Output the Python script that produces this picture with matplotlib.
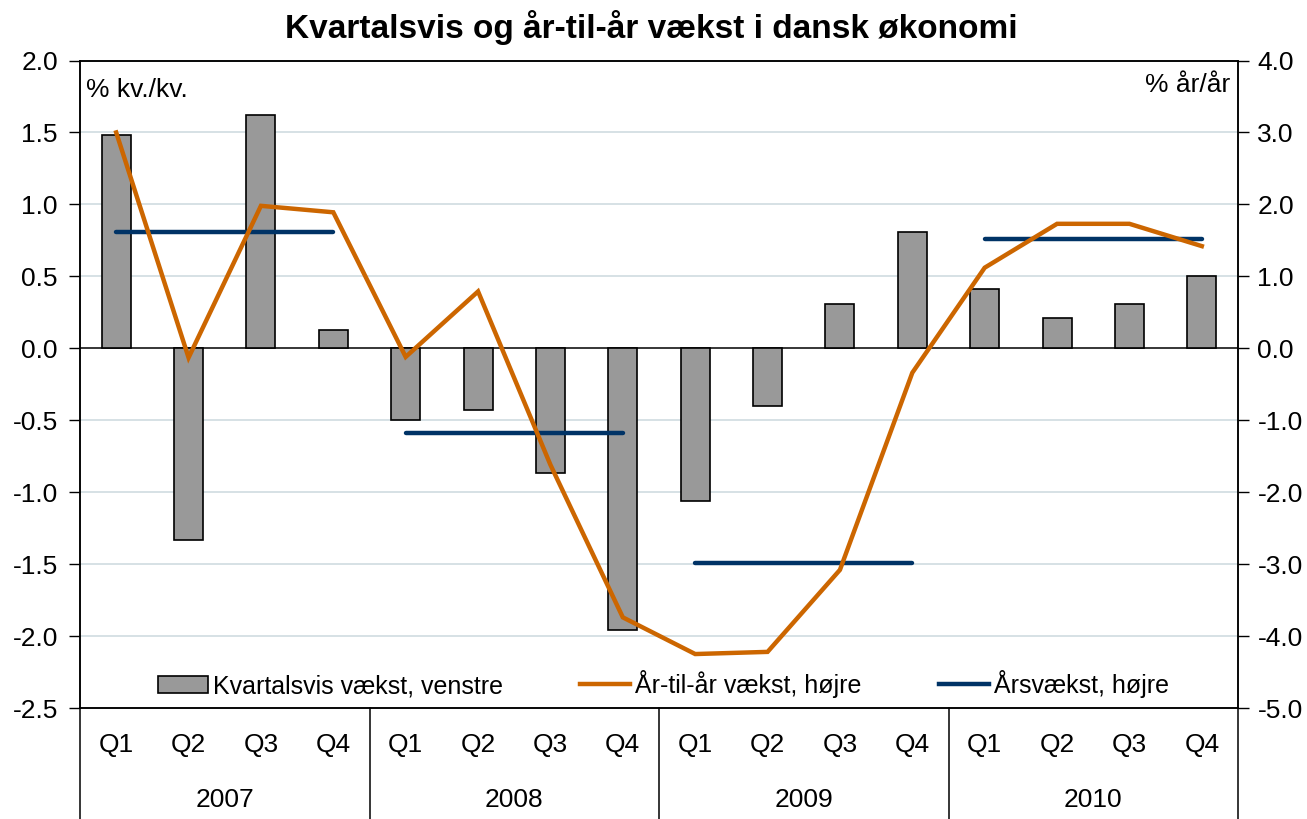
import numpy as np
import matplotlib
matplotlib.use("Agg")
import matplotlib.pyplot as plt
import matplotlib.transforms as mtransforms
from matplotlib.patches import Patch
from matplotlib.lines import Line2D

plt.rcParams['font.family'] = ['Liberation Sans', 'DejaVu Sans']

# ---- data ----
years = ["2007", "2008", "2009", "2010"]
quarters = ["Q1", "Q2", "Q3", "Q4"]
kvartalsvis = [1.48, -1.33, 1.62, 0.13,
               -0.50, -0.43, -0.87, -1.96,
               -1.06, -0.40, 0.31, 0.81,
               0.41, 0.21, 0.31, 0.50]
aar_til_aar = [3.00, -0.13, 1.98, 1.89,
               -0.12, 0.79, -1.62, -3.74,
               -4.25, -4.22, -3.08, -0.34,
               1.12, 1.73, 1.73, 1.42]
aarsvaekst = [1.62, -1.18, -2.98, 1.52]

title = "Kvartalsvis og år-til-år vækst i dansk økonomi"
left_label = "% kv./kv."
right_label = "% år/år"
legend_labels = ["Kvartalsvis vækst, venstre", "År-til-år vækst, højre", "Årsvækst, højre"]

# ---- styles ----
BAR_C = "#999999"
ORANGE = "#CC6600"
BLUE = "#003366"
GRID = "#cfdbe0"
FS = 19

fig = plt.figure(figsize=(13.07, 8.19), dpi=100)
fig.patch.set_facecolor("white")
ax = fig.add_axes([80/1307, 1-708/819, (1238-80)/1307, (708-60.5)/819])
ax2 = ax.twinx()

n = len(kvartalsvis)
x = np.arange(n)

# bars
ax.bar(x, kvartalsvis, width=0.4, color=BAR_C, edgecolor="black", linewidth=1.2, zorder=3)
ax.set_xlim(-0.5, n - 0.5)
ax.set_ylim(-2.5, 2.0)
ax.set_yticks(np.arange(-2.5, 2.01, 0.5))
ax.set_yticklabels([f"{v:.1f}" for v in np.arange(-2.5, 2.01, 0.5)])
for v in np.arange(-2.0, 2.01, 0.5):
    if abs(v) > 1e-9:
        ax.axhline(v, color=GRID, lw=1.2, zorder=1)
ax.axhline(0, color="black", lw=1.1, zorder=2)

# lines on right axis
ax2.plot(x, aar_til_aar, color=ORANGE, lw=3.2, zorder=5, solid_joinstyle="miter")
for i, val in enumerate(aarsvaekst):
    xs = x[4*i:4*i+4]
    ax2.plot([xs[0], xs[-1]], [val, val], color=BLUE, lw=3.2, solid_capstyle="round", zorder=4)
ax2.set_ylim(-5.0, 4.0)
ax2.set_yticks(np.arange(-5.0, 4.01, 1.0))
ax2.set_yticklabels([f"{v:.1f}" for v in np.arange(-5.0, 4.01, 1.0)])

# ticks
ax.set_xticks(x)
ax.set_xticklabels([])
ax.tick_params(axis="x", length=0)
ax.tick_params(axis="y", direction="out", length=8, width=1, labelsize=FS, pad=8)
ax2.tick_params(axis="y", direction="out", length=8, width=1, labelsize=FS, pad=6)

for a in (ax, ax2):
    for s in a.spines.values():
        s.set_color("black")
        s.set_linewidth(1.1)

# category labels
trans = mtransforms.blended_transform_factory(ax.transData, ax.transAxes)
for i in range(n):
    ax.text(x[i], -0.057, quarters[i % 4], transform=trans, ha="center", va="center", fontsize=FS)
for j, yr in enumerate(years):
    ax.text(x[4*j:4*j+4].mean(), -0.142, yr, transform=trans, ha="center", va="center", fontsize=FS)
for k in range(len(years) + 1):
    xb = k * 4 - 0.5
    ax.plot([xb, xb], [0, -0.2], transform=trans, color="black", lw=1.1, clip_on=False)

# axis unit labels
ax.text(0.005, 0.954, left_label, transform=ax.transAxes, ha="left", va="center", fontsize=FS)
ax2.text(0.993, 0.962, right_label, transform=ax.transAxes, ha="right", va="center", fontsize=FS)

# title
fig.text(0.498, 0.966, title, ha="center", va="center", fontsize=24, fontweight="bold")

# legend
handles = [Patch(facecolor=BAR_C, edgecolor="black", linewidth=1.2),
           Line2D([], [], color=ORANGE, lw=3.2),
           Line2D([], [], color=BLUE, lw=3.2)]
ax2.legend(handles, legend_labels, loc="center", bbox_to_anchor=(0.504, 0.037), ncol=3,
           frameon=False, fontsize=18, handlelength=2.0, handletextpad=0.2,
           columnspacing=3.1, borderpad=0)

fig.savefig("out.png", dpi=100, facecolor="white")
